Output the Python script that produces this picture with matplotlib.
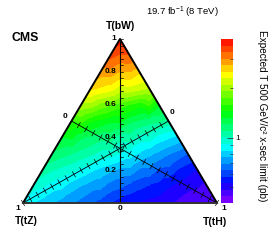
import numpy as np
import matplotlib
matplotlib.use('Agg')
import matplotlib.pyplot as plt
import matplotlib.tri as mtri
from matplotlib.colors import LogNorm, ListedColormap, hsv_to_rgb
from matplotlib.ticker import FixedLocator, NullFormatter, FuncFormatter

plt.rcParams['font.family'] = ['Liberation Sans', 'DejaVu Sans']
plt.rcParams['mathtext.fontset'] = 'custom'
plt.rcParams['mathtext.rm'] = 'Liberation Sans'
plt.rcParams['mathtext.it'] = 'Liberation Sans:italic'
plt.rcParams['mathtext.bf'] = 'Liberation Sans:bold'

# B(T->bW) of each scan row
bw_fractions = [0.0, 0.1, 0.2, 0.3, 0.4, 0.5, 0.6, 0.7, 0.8, 0.9, 1.0]
# B(T->tH) step inside a row, each row starts at tH = 0
th_step = 0.1
# expected x-sec limit (pb), one list per bW row, tH = 0, 0.1, 0.2, ...
expected_limit = [
    [0.88, 0.80, 0.73, 0.67, 0.61, 0.55, 0.52, 0.50, 0.47, 0.45, 0.43],
    [0.95, 0.87, 0.79, 0.72, 0.66, 0.61, 0.57, 0.53, 0.49, 0.46],
    [1.05, 0.97, 0.89, 0.81, 0.74, 0.68, 0.62, 0.57, 0.52],
    [1.18, 1.10, 1.02, 0.95, 0.87, 0.78, 0.70, 0.63],
    [1.32, 1.22, 1.13, 1.04, 0.96, 0.88, 0.81],
    [1.59, 1.47, 1.35, 1.24, 1.14, 1.05],
    [2.05, 1.85, 1.67, 1.50, 1.36],
    [2.58, 2.41, 2.25, 2.10],
    [2.90, 2.74, 2.58],
    [3.44, 3.29],
    [3.82],
]
z_min, z_max = 0.4, 4.0
n_bands = 25
axis_ticks = [0.0, 0.2, 0.4, 0.6, 0.8, 1.0]
axis_labels = ['0', '0.2', '0.4', '0.6', '0.8', '1']
cbar_minor = [0.5, 0.6, 0.7, 0.8, 0.9, 2, 3]

W, H = 274, 243


def px(x, y):
    return x / W, 1 - y / H


def root_palette(n=256):
    # violet -> blue -> cyan -> green -> yellow -> red, full saturation
    hue = np.linspace(0.76, 0.0, n)
    hsv = np.column_stack([hue, np.ones(n), np.ones(n)])
    return ListedColormap(hsv_to_rgb(hsv))


def draw_median(ax, start, end, step, half_px, both_sides=True, lw=0.6):
    ax.plot([start[0], end[0]], [start[1], end[1]], color='black', lw=lw,
            clip_on=False, zorder=3)
    p0 = ax.transData.transform(start)
    p1 = ax.transData.transform(end)
    d = (p1 - p0) / np.hypot(*(p1 - p0))
    n = np.array([d[1], -d[0]])
    inv = ax.transData.inverted()
    for t in np.arange(0, 1 + 1e-9, step):
        p = p0 + (p1 - p0) * t
        a = p - n * half_px if both_sides else p
        seg = inv.transform([a, p + n * half_px])
        ax.plot(seg[:, 0], seg[:, 1], color='black', lw=0.5, clip_on=False, zorder=3)


def main():
    xs, ys, zs = [], [], []
    for bw, row in zip(bw_fractions, expected_limit):
        for j, lim in enumerate(row):
            th = j * th_step
            tz = 1.0 - bw - th
            xs.append(th - tz)
            ys.append(bw)
            zs.append(lim)
    tri = mtri.Triangulation(xs, ys)

    fig = plt.figure(figsize=(W / 100, H / 100), dpi=100)
    ax = fig.add_axes([23 / W, 40 / H, 194 / W, 164 / H])
    ax.set_xlim(-1, 1)
    ax.set_ylim(0, 1)
    ax.axis('off')

    levels = np.logspace(np.log10(z_min), np.log10(z_max), n_bands + 1)
    cs = ax.tricontourf(tri, zs, levels=levels, cmap=root_palette(),
                        norm=LogNorm(vmin=z_min, vmax=z_max))

    # triangle frame
    ax.plot([-1, 0, 1], [0, 1, 0], color='black', lw=1.4, clip_on=False, zorder=4)
    ax.plot([-1, 1], [0, 0], color='#333333', lw=1.4, clip_on=False, zorder=4)

    # bW axis (vertical) with ticks on the right side
    draw_median(ax, (0, 0), (0, 1), 0.04, 3, both_sides=False, lw=0.8)
    for v, lab in zip(axis_ticks[1:], axis_labels[1:]):
        ax.annotate(lab, (0, v), xytext=(-2.5, 0), textcoords='offset points',
                    ha='right', va='center', fontsize=6, fontweight='bold')
    fig.text(*px(120.5, 209), '0', ha='center', va='center', fontsize=6, fontweight='bold')

    # tZ axis: corner tZ=1 to middle of the right edge, tH axis mirrored
    draw_median(ax, (-1, 0), (0.5, 0.5), 0.05, 3)
    draw_median(ax, (1, 0), (-0.5, 0.5), 0.05, 3)
    fig.text(*px(18, 208), '1', ha='center', va='center', fontsize=6, fontweight='bold')
    fig.text(*px(172, 113), '0', ha='center', va='center', fontsize=6, fontweight='bold')
    fig.text(*px(224, 208), '1', ha='center', va='center', fontsize=6, fontweight='bold')
    fig.text(*px(65, 117), '0', ha='center', va='center', fontsize=6, fontweight='bold')

    # corner titles
    fig.text(*px(121, 26), 'T(bW)', ha='center', va='center', fontsize=7.5, fontweight='bold')
    fig.text(*px(26, 221), 'T(tZ)', ha='center', va='center', fontsize=7.5, fontweight='bold')
    fig.text(*px(215, 222), 'T(tH)', ha='center', va='center', fontsize=7.5, fontweight='bold')

    fig.text(*px(12, 38), 'CMS', ha='left', va='center', fontsize=8.8, fontweight='bold')
    fig.text(*px(182, 12), r'19.7 fb$^{-1}$ (8 TeV)', ha='center', va='center', fontsize=6.8)

    # colour scale
    cax = fig.add_axes([221 / W, 40 / H, 12 / W, 164 / H])
    cbar = fig.colorbar(cs, cax=cax)
    cbar.outline.set_visible(False)
    cax.yaxis.set_major_locator(FixedLocator([1.0]))
    cax.yaxis.set_major_formatter(FuncFormatter(lambda v, p: '1'))
    cax.yaxis.set_minor_locator(FixedLocator(cbar_minor))
    cax.yaxis.set_minor_formatter(NullFormatter())
    cax.tick_params(which='both', direction='in', right=True, left=False,
                    labelsize=6, color='#333333', pad=2)
    cax.tick_params(which='major', length=4, width=0.6)
    cax.tick_params(which='minor', length=2.5, width=0.5)
    fig.text(*px(262, 116), 'Expected T 500 GeV/c² x-sec limit (pb)', rotation=-90,
             ha='center', va='center', fontsize=7.2)

    fig.savefig('out.png', dpi=100)


if __name__ == '__main__':
    main()
